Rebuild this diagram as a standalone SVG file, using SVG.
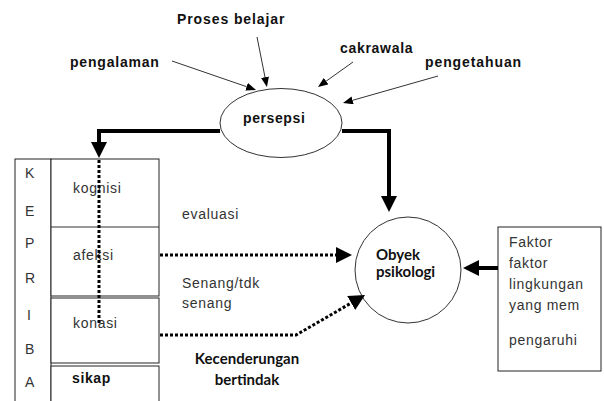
<svg xmlns="http://www.w3.org/2000/svg" width="604" height="401" viewBox="0 0 604 401">
<defs>
<style>
.lb{font-family:"Liberation Sans",Arial,sans-serif;font-weight:bold;font-size:14px;letter-spacing:0.9px;fill:#111}
.rg{font-family:"Liberation Sans",Arial,sans-serif;font-size:14px;letter-spacing:0.7px;fill:#333}
.kp{font-family:"Liberation Sans",Arial,sans-serif;font-size:14px;fill:#333}
.cb{font-family:Lato,"Liberation Sans",sans-serif;font-weight:bold;font-size:15px;fill:#111}
.box{fill:#fff;stroke:#222;stroke-width:1}
.thin{fill:none;stroke:#333;stroke-width:1}
.thick{fill:none;stroke:#000;stroke-width:4}
.dot{fill:none;stroke:#000;stroke-width:3;stroke-dasharray:3 2}
</style>
<marker id="ah" markerUnits="userSpaceOnUse" viewBox="0 0 16 16" refX="0" refY="8" markerWidth="16" markerHeight="16" orient="auto"><path d="M0,0 L16,8 L0,16 z" fill="#000"/></marker>
<marker id="at" markerUnits="userSpaceOnUse" viewBox="0 0 10 8" refX="0" refY="4" markerWidth="10" markerHeight="8" orient="auto"><path d="M0,0 L10,4 L0,8 z" fill="#000"/></marker>
</defs>
<rect width="604" height="401" fill="#fff"/>

<g id="kepribadian">
<rect class="box" x="15" y="159" width="36" height="260"/>
<text class="kp" x="25" y="178">K</text>
<text class="kp" x="25" y="216">E</text>
<text class="kp" x="25" y="248">P</text>
<text class="kp" x="25" y="283">R</text>
<text class="kp" x="27" y="320">I</text>
<text class="kp" x="25" y="354">B</text>
<text class="kp" x="25" y="387">A</text>
</g>
<g id="kognisi-afeksi">
<rect class="box" x="51" y="159" width="108" height="137"/>
<line class="thin" x1="51" y1="227" x2="159" y2="227"/>
<text class="rg" x="73" y="193">kognisi</text>
<text class="rg" x="73" y="260">afeksi</text>
</g>
<g id="konasi">
<rect class="box" x="51" y="298" width="108" height="65" stroke="#666"/>
<text class="rg" x="73" y="328">konasi</text>
</g>
<g id="sikap">
<rect class="box" x="51" y="366" width="108" height="60" stroke="#666"/>
<text class="lb" x="72" y="383" style="letter-spacing:0.6px">sikap</text>
</g>

<g id="persepsi">
<ellipse cx="281" cy="123" rx="61" ry="34.5" fill="#fff" stroke="#333" stroke-width="1"/>
<text class="lb" x="243" y="123" style="letter-spacing:0.6px">persepsi</text>
</g>

<g id="obyek">
<circle cx="408" cy="270" r="53" fill="#fff" stroke="#333" stroke-width="1"/>
<text class="cb" x="376" y="260">Obyek</text>
<text class="cb" x="376" y="277">psikologi</text>
</g>

<g id="faktor">
<rect class="box" x="498" y="227" width="103" height="144"/>
<text class="rg" x="509" y="247">Faktor</text>
<text class="rg" x="509" y="268">faktor</text>
<text class="rg" x="509" y="289">lingkungan</text>
<text class="rg" x="509" y="310">yang mem</text>
<text class="rg" x="509" y="345">pengaruhi</text>
</g>

<g id="labels">
<text class="lb" x="177" y="24">Proses belajar</text>
<text class="lb" x="70" y="67" style="letter-spacing:0.8px">pengalaman</text>
<text class="lb" x="340" y="53" style="letter-spacing:0.7px">cakrawala</text>
<text class="lb" x="425" y="67">pengetahuan</text>
<text class="rg" x="182" y="219">evaluasi</text>
<text class="rg" x="182" y="288">Senang/tdk</text>
<text class="rg" x="182" y="308">senang</text>
<text class="cb" x="247" y="364" text-anchor="middle">Kecenderungan</text>
<text class="cb" x="247" y="385" text-anchor="middle">bertindak</text>
</g>

<g id="connectors">
<path class="thin" d="M172,61 L246.6,86.7" marker-end="url(#at)"/>
<path class="thin" d="M257,37 L265,77.2" marker-end="url(#at)"/>
<path class="thin" d="M353,62 L326.1,81.2" marker-end="url(#at)"/>
<path class="thin" d="M438,76 L352.6,100.3" marker-end="url(#at)"/>
<path class="thick" d="M220,131 H99 V142" marker-end="url(#ah)"/>
<path class="thick" d="M342,131 H389 V196" marker-end="url(#ah)"/>
<path class="thick" d="M498,268 H479" marker-end="url(#ah)"/>
<path class="dot" d="M99,160 V323"/>
<path class="dot" d="M160,255 H336" marker-end="url(#ah)"/>
<path class="dot" d="M160,335 H296 L351.2,303" marker-end="url(#ah)"/>
</g>
</svg>
